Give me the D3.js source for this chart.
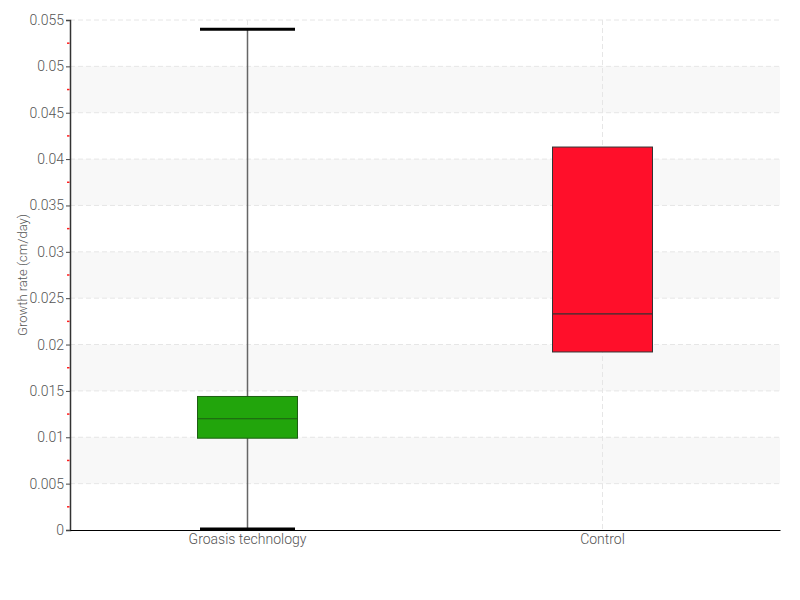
<!DOCTYPE html>
<html>
<head>
<meta charset="utf-8">
<script src="https://cdn.jsdelivr.net/npm/d3@7"></script>
<style>
  body { margin: 0; background: #fff; }
  text { font-family: Roboto, "DejaVu Sans", sans-serif; font-weight: 300; }
</style>
</head>
<body>
<svg id="chart" width="800" height="600"></svg>
<script>
// box plot data
var categories = ["Groasis technology", "Control"];
var mins    = [0.0,    0.0192];
var q1s     = [0.0099, 0.0192];
var medians = [0.0120, 0.0233];
var q3s     = [0.0144, 0.0413];
var maxs    = [0.0540, 0.0413];
var colors  = ["#22a50c", "#ff0f2a"];
var strokes = ["#1d5e12", "#333333"];
var yTicks  = [0, 0.005, 0.01, 0.015, 0.02, 0.025, 0.03, 0.035, 0.04, 0.045, 0.05, 0.055];
var yLabel  = "Growth rate (cm/day)";

var margin = {left: 70, right: 20, top: 20, bottom: 70};
var w = 800, h = 600;

var svg = d3.select("#chart");

var x = d3.scaleBand().domain(categories).range([margin.left, w - margin.right]);
var y = d3.scaleLinear().domain([0, 0.055]).range([h - margin.bottom, margin.top]);

// alternating bands
var bands = d3.range(1, yTicks.length - 1, 2);
svg.selectAll(".band").data(bands).enter()
   .append("rect")
   .attr("class", "band")
   .attr("x", margin.left)
   .attr("width", w - margin.right - margin.left)
   .attr("y", function(i){ return y(yTicks[i+1]); })
   .attr("height", function(i){ return y(yTicks[i]) - y(yTicks[i+1]); })
   .attr("fill", "#f8f8f8");

// horizontal grid
svg.selectAll(".hgrid").data(yTicks.slice(1)).enter()
   .append("line")
   .attr("x1", margin.left).attr("x2", w - margin.right)
   .attr("y1", function(d){ return y(d); }).attr("y2", function(d){ return y(d); })
   .attr("stroke", "#e6e6e6").attr("stroke-dasharray", "5,3");

// vertical grid at category centres
svg.selectAll(".vgrid").data(categories).enter()
   .append("line")
   .attr("x1", function(d){ return x(d) + x.bandwidth()/2; })
   .attr("x2", function(d){ return x(d) + x.bandwidth()/2; })
   .attr("y1", margin.top).attr("y2", h - margin.bottom)
   .attr("stroke", "#e6e6e6").attr("stroke-dasharray", "5,3");

// y axis
var yAxis = svg.append("g")
   .attr("transform", "translate(" + margin.left + ",0)")
   .call(d3.axisLeft(y).tickValues(yTicks).tickSize(4).tickPadding(2)
         .tickFormat(function(d){ return d === 0 ? "0" : String(+d.toFixed(3)); }));
yAxis.select(".domain").attr("stroke", "#333").attr("stroke-width", 1.5);
yAxis.selectAll(".tick line").attr("stroke", "#444");
yAxis.selectAll("text").attr("fill", "#555").style("font-size", "14px");

// minor ticks (red)
var minor = d3.range(yTicks.length - 1).map(function(i){ return (yTicks[i] + yTicks[i+1]) / 2; });
svg.selectAll(".minor").data(minor).enter()
   .append("line")
   .attr("class", "minor")
   .attr("x1", margin.left - 3).attr("x2", margin.left - 0.5)
   .attr("y1", function(d){ return y(d); }).attr("y2", function(d){ return y(d); })
   .attr("stroke", "#ff2020").attr("stroke-width", 1.5);

// x axis
var xAxis = svg.append("g")
   .attr("transform", "translate(0," + (h - margin.bottom) + ")")
   .call(d3.axisBottom(x).tickSize(0).tickPadding(4));
xAxis.select(".domain").attr("stroke", "#000").attr("stroke-width", 1);
xAxis.selectAll("text").attr("fill", "#555").style("font-size", "14px");

// y label
svg.append("text")
   .attr("transform", "translate(27," + ((margin.top + h - margin.bottom)/2) + ") rotate(-90)")
   .attr("text-anchor", "middle")
   .attr("fill", "#555")
   .style("font-size", "13px")
   .text(yLabel);

// boxes
var boxW = 100, capW = 95;
var g = svg.selectAll(".box").data(categories).enter()
   .append("g").attr("class", "box")
   .attr("transform", function(d){ return "translate(" + (x(d) + x.bandwidth()/2) + ",0)"; });

g.filter(function(d, i){ return maxs[i] > q3s[i] || mins[i] < q1s[i]; })
 .append("line")
 .attr("x1", 0).attr("x2", 0)
 .attr("y1", function(d){ return y(maxs[categories.indexOf(d)]); })
 .attr("y2", function(d){ return y(mins[categories.indexOf(d)]); })
 .attr("stroke", "#666").attr("stroke-width", 1.5);

g.filter(function(d, i){ return maxs[i] > q3s[i]; })
 .append("line")
 .attr("x1", -capW/2).attr("x2", capW/2)
 .attr("y1", function(d){ return y(maxs[categories.indexOf(d)]); })
 .attr("y2", function(d){ return y(maxs[categories.indexOf(d)]); })
 .attr("stroke", "#000").attr("stroke-width", 3);

g.filter(function(d, i){ return mins[i] < q1s[i]; })
 .append("line")
 .attr("x1", -capW/2).attr("x2", capW/2)
 .attr("y1", function(d){ return y(mins[categories.indexOf(d)]) - 1; })
 .attr("y2", function(d){ return y(mins[categories.indexOf(d)]) - 1; })
 .attr("stroke", "#000").attr("stroke-width", 3);

g.append("rect")
 .attr("x", -boxW/2).attr("width", boxW)
 .attr("y", function(d){ return y(q3s[categories.indexOf(d)]); })
 .attr("height", function(d){ var i = categories.indexOf(d); return y(q1s[i]) - y(q3s[i]); })
 .attr("fill", function(d){ return colors[categories.indexOf(d)]; })
 .attr("stroke", function(d){ return strokes[categories.indexOf(d)]; })
 .attr("stroke-width", 1);

g.append("line")
 .attr("x1", -boxW/2).attr("x2", boxW/2)
 .attr("y1", function(d){ return y(medians[categories.indexOf(d)]); })
 .attr("y2", function(d){ return y(medians[categories.indexOf(d)]); })
 .attr("stroke", function(d){ return strokes[categories.indexOf(d)]; })
 .attr("stroke-width", 1.2);
</script>
</body>
</html>
